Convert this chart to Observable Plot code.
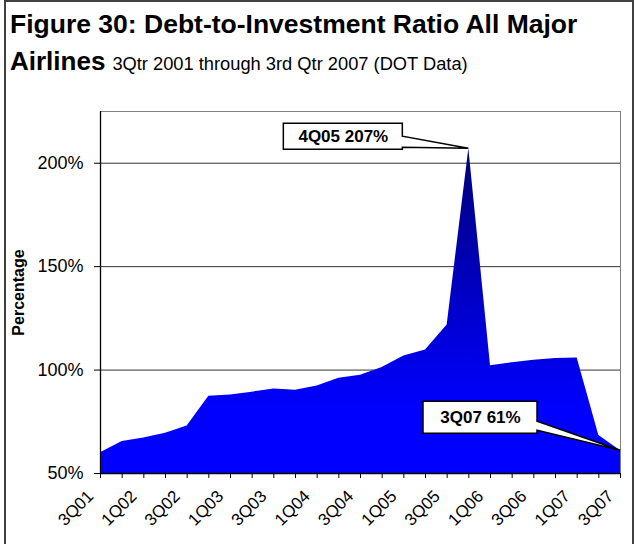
<!DOCTYPE html>
<html>
<head>
<meta charset="utf-8">
<script src="https://cdn.jsdelivr.net/npm/d3@7"></script>
<script src="https://cdn.jsdelivr.net/npm/@observablehq/plot@0.6"></script>
<style>
  body { margin: 0; background: #fff; font-family: Arial, "Liberation Sans", sans-serif; }
  #wrap { position: relative; width: 636px; height: 544px; overflow: hidden; background: #fff; }
  #border { position: absolute; left: 4px; top: 0; width: 630px; height: 620px; border: 2px solid #404040; box-sizing: border-box; }
  #t1 { position: absolute; left: 10px; top: 11px; font-size: 26.5px; line-height: 26px; font-weight: bold; white-space: nowrap; color: #000; }
  #t2 { position: absolute; left: 10px; top: 48px; font-size: 26px; line-height: 26px; font-weight: bold; white-space: nowrap; color: #000; }
  #t2 span { font-size: 18.3px; font-weight: normal; margin-left: 7px; }
  #chart { position: absolute; left: 0; top: 0; }
</style>
</head>
<body>
<div id="wrap">
  <div id="border"></div>
  <div id="chart"></div>
  <div id="t1">Figure 30: Debt-to-Investment Ratio All Major</div>
  <div id="t2">Airlines<span>3Qtr 2001 through 3rd Qtr 2007 (DOT Data)</span></div>
</div>
<script>
// ---- data ----
const quarters = ["3Q01","4Q01","1Q02","2Q02","3Q02","4Q02","1Q03","2Q03","3Q03","4Q03",
                  "1Q04","2Q04","3Q04","4Q04","1Q05","2Q05","3Q05","4Q05","1Q06","2Q06",
                  "3Q06","4Q06","1Q07","2Q07","3Q07"];
const ratio = [60, 65.5, 67.2, 69.4, 73, 87.3, 87.9, 89.3, 90.8, 90.2,
               92.3, 96.1, 97.5, 101.3, 106.8, 109.7, 121.8, 207, 102.1, 103.5,
               104.8, 105.6, 105.8, 68.4, 61];
const xTickLabels = ["3Q01","1Q02","3Q02","1Q03","3Q03","1Q04","3Q04","1Q05","3Q05","1Q06","3Q06","1Q07","3Q07"];
const yTicks = [50, 100, 150, 200];
const calloutQuarters = ["4Q05", "3Q07"];
const calloutValues = [207, 61];
const calloutLabels = ["4Q05 207%", "3Q07 61%"];

// ---- build ----
const data = quarters.map((q, i) => ({i, q, v: ratio[i]}));
const callouts = calloutQuarters.map((q, k) => ({i: quarters.indexOf(q), v: calloutValues[k], label: calloutLabels[k]}));
// layout of callout boxes (offsets from the data point, in px)
const boxLayout = [
  {dx: -125.5, dy: -12, w: 119, h: 26, n1: 13, n2: 2},
  {dx: -140, dy: -33, w: 114, h: 32, n1: 12, n2: 3}
];
const xLabelTicks = xTickLabels.map(l => quarters.indexOf(l));

const ns = "http://www.w3.org/2000/svg";
const gradientMark = (index, scales) => {
  const defs = document.createElementNS(ns, "defs");
  const g = document.createElementNS(ns, "linearGradient");
  g.setAttribute("id", "areaGrad");
  g.setAttribute("gradientUnits", "userSpaceOnUse");
  g.setAttribute("x1", 0); g.setAttribute("x2", 0);
  g.setAttribute("y1", scales.y(d3.max(ratio)));
  g.setAttribute("y2", scales.y(yTicks[0]));
  [[0, "#00007a"], [0.8, "#0000ff"], [1, "#0000ff"]].forEach(([o, c]) => {
    const s = document.createElementNS(ns, "stop");
    s.setAttribute("offset", o); s.setAttribute("stop-color", c);
    g.appendChild(s);
  });
  defs.appendChild(g);
  return defs;
};

const calloutBoxMark = (index, scales) => {
  const g = document.createElementNS(ns, "g");
  callouts.forEach((c, k) => {
    const L = boxLayout[k];
    const px = scales.x(c.i), py = scales.y(c.v);
    const cx = px + L.dx, cy = py + L.dy;
    const x0 = cx - L.w / 2, x1 = cx + L.w / 2, y0 = cy - L.h / 2, y1 = cy + L.h / 2;
    const p = document.createElementNS(ns, "path");
    p.setAttribute("d", `M${x0},${y0}H${x1}V${y1 - L.n1}L${px},${py}L${x1},${y1 - L.n2}V${y1}H${x0}Z`);
    p.setAttribute("fill", "#fff");
    p.setAttribute("stroke", "#000");
    p.setAttribute("stroke-width", 1.5);
    g.appendChild(p);
  });
  return g;
};

const font = "Arial, 'Liberation Sans', sans-serif";

const chart = Plot.plot({
  width: 636,
  height: 544,
  marginLeft: 100,
  marginRight: 16,
  marginTop: 111,
  marginBottom: 71,
  style: {fontFamily: font, fontSize: "18px", color: "#000", background: "transparent", overflow: "visible"},
  x: {domain: [0, quarters.length - 1], axis: null},
  y: {domain: [50, 225], axis: null},
  marks: [
    gradientMark,
    Plot.ruleY(yTicks.slice(1), {stroke: "#333", strokeWidth: 1}),
    Plot.areaY(data, {x: "i", y1: yTicks[0], y2: "v", fill: "url(#areaGrad)"}),
    Plot.frame({stroke: "#808080", strokeWidth: 1}),
    Plot.ruleX([0], {stroke: "#000", strokeWidth: 1.3}),
    Plot.ruleY([yTicks[0]], {stroke: "#000", strokeWidth: 1.3}),
    // y axis
    Plot.axisY({ticks: yTicks, tickFormat: d => d + "%", tickSize: 6, tickPadding: 11, label: null, fontSize: 18, stroke: "#000"}),
    // x axis ticks (every quarter)
    Plot.axisX({ticks: d3.range(quarters.length), tickFormat: () => "", tickSize: 5, label: null, stroke: "#000"}),
    // x axis labels (every other quarter)
    Plot.axisX({ticks: xLabelTicks, tickFormat: i => quarters[i], tickSize: 0, tickPadding: 5, tickRotate: -45, dx: -10, dy: 15, label: null, fontSize: 17}),
    Plot.text(["Percentage"], {frameAnchor: "left", textAnchor: "middle", rotate: -90, dx: -82, fontWeight: "bold", fontSize: 16}),
    calloutBoxMark,
    ...callouts.map((c, k) => Plot.text([c], {
      x: "i", y: "v", text: "label",
      dx: boxLayout[k].dx, dy: boxLayout[k].dy,
      fontWeight: "bold", fontSize: 17, fill: "#000"
    }))
  ]
});

document.getElementById("chart").appendChild(chart);
</script>
</body>
</html>
